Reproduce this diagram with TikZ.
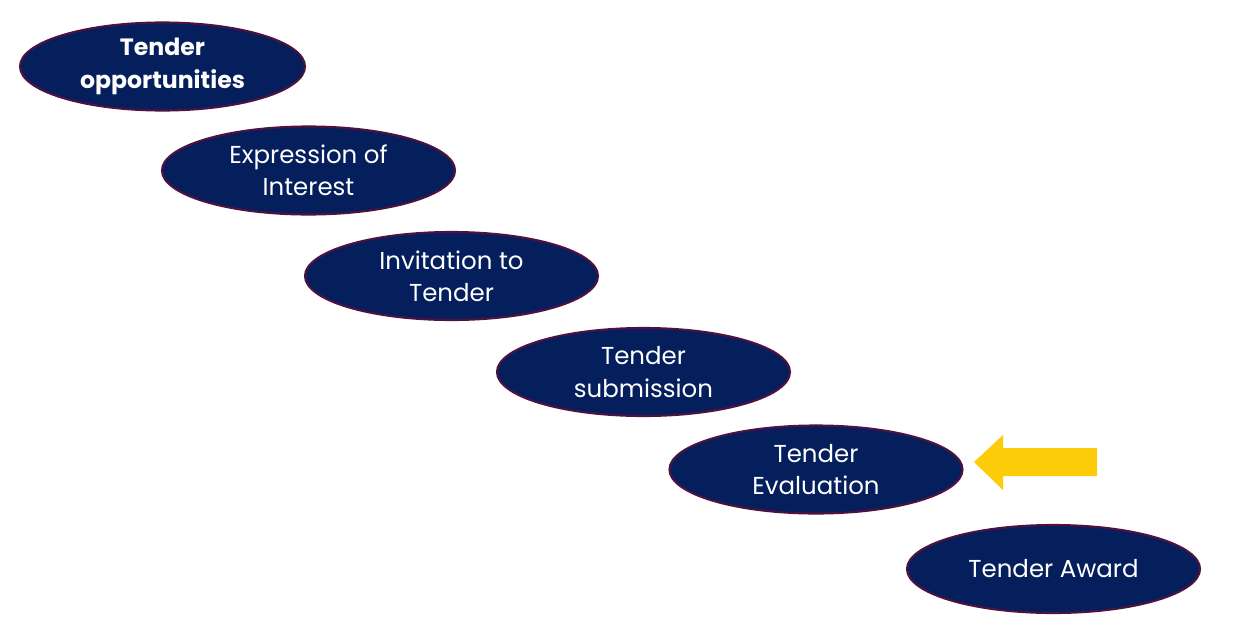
\documentclass[tikz,border=0pt]{standalone}
\usepackage{fontspec}
\setmainfont{Poppins}
\usepackage{xcolor}
\definecolor{tnavy}{RGB}{4,31,92}
\definecolor{tplum}{RGB}{78,18,64}
\definecolor{tyellow}{RGB}{252,204,10}
\usetikzlibrary{shapes.geometric}

\begin{document}
\begin{tikzpicture}[x=0.025cm,y=-0.025cm,
  stage/.style={ellipse,draw=tplum,line width=1.5pt,fill=tnavy,text=white,
    minimum width=293*0.025cm,minimum height=88*0.025cm,inner sep=0pt,
    align=center,font=\fontsize{17.4}{23}\selectfont},
  fstage/.style={stage,minimum width=285*0.025cm,font=\fontsize{16.8}{23}\selectfont\bfseries}]
  \useasboundingbox (0,0) rectangle (1240,638);
  % Stages
  \node[fstage] (opp) at (162.5,66.5) {Tender\\opportunities};
  \node[stage] (eoi) at (308.5,170.5) {Expression of\\Interest};
  \node[stage] (itt) at (451.5,276) {Invitation to\\Tender};
  \node[stage] (sub) at (643.5,372) {Tender\\submission};
  \node[stage] (eval) at (816,469.5) {Tender\\Evaluation};
  \node[stage] (award) at (1053.5,569) {Tender Award};
  % Marker arrow
  \fill[tyellow] (1097,448) -- (1003,448) -- (1003,435) -- (974,462)
    -- (1003,490) -- (1003,476) -- (1097,476) -- cycle;
\end{tikzpicture}
\end{document}
